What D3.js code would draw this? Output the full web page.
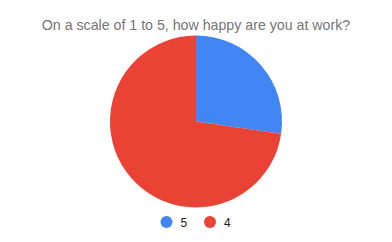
<!DOCTYPE html>
<html><head><meta charset="utf-8">
<script src="https://cdn.jsdelivr.net/npm/d3@7"></script>
<style>body{margin:0;background:#fff}</style>
</head><body>
<svg id="c" width="392" height="242"></svg>
<script>
const categories = ["5", "4"];
const values = [3, 8];
const colors = ["#4285f4", "#ea4335"];
const title = "On a scale of 1 to 5, how happy are you at work?";

const svg = d3.select("#c");
svg.append("rect").attr("width",392).attr("height",242).attr("fill","#fff");
const t = svg.append("text").attr("x",196).attr("y",30).attr("text-anchor","middle")
  .attr("font-family","Liberation Sans, Arial, sans-serif").attr("font-size",14.2)
  .attr("fill","#757575").text(title);

const data = categories.map((c,i)=>({c, v: values[i], col: colors[i]}));
const pie = d3.pie().value(d=>d.v).sort(null);
const arc = d3.arc().innerRadius(0).outerRadius(86);
const g = svg.append("g").attr("transform","translate(196,121.5)");
g.selectAll("path").data(pie(data)).join("path").attr("d",arc).attr("fill",d=>d.data.col);

const lx = d3.scalePoint().domain(categories).range([166.5,210]);
const lg = svg.append("g");
data.forEach(d=>{
  lg.append("circle").attr("cx",lx(d.c)).attr("cy",222).attr("r",6).attr("fill",d.col);
  lg.append("text").attr("x",lx(d.c)+14).attr("y",226.5)
    .attr("font-family","Liberation Sans, Arial, sans-serif").attr("font-size",12)
    .attr("fill","#222").text(d.c);
});
</script>
</body></html>
